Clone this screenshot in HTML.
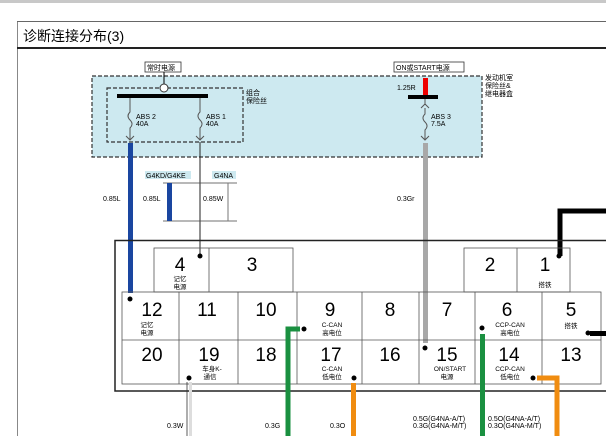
<!DOCTYPE html>
<html><head><meta charset="utf-8"><style>
html,body{margin:0;padding:0;background:#fff;width:606px;height:436px;overflow:hidden}
svg{display:block}
text{font-family:"Liberation Sans","Noto Sans CJK SC",sans-serif;fill:#000}
</style></head><body>
<svg width="606" height="436" viewBox="0 0 606 436">
<rect x="0" y="0" width="606" height="3" fill="#c8c8c8"/>
<line x1="17.5" y1="21" x2="17.5" y2="436" stroke="#888" stroke-width="1"/>
<line x1="17" y1="21.5" x2="606" y2="21.5" stroke="#666" stroke-width="1"/>
<line x1="17" y1="48" x2="606" y2="48" stroke="#222" stroke-width="2"/>
<text x="23" y="41" font-size="14">诊断连接分布(3)</text>

<!-- fuse box -->
<rect x="92" y="76" width="390" height="81" fill="#cde9f0" stroke="#333" stroke-width="1.2" stroke-dasharray="4,2"/>
<rect x="107" y="88" width="136" height="54" fill="none" stroke="#333" stroke-width="1.2" stroke-dasharray="4,2"/>
<text x="246" y="95" font-size="7">组合</text>
<text x="246" y="103" font-size="7">保险丝</text>
<text x="485" y="80" font-size="7">发动机室</text>
<text x="485" y="88" font-size="7">保险丝&amp;</text>
<text x="485" y="96" font-size="7">继电器盒</text>
<rect x="145" y="62" width="36" height="10" fill="#fff" stroke="#333" stroke-width="0.8"/>
<text x="147" y="70" font-size="7">常时电源</text>
<rect x="394" y="62" width="70" height="10" fill="#fff" stroke="#333" stroke-width="0.8"/>
<text x="396" y="70" font-size="7">ON或START电源</text>
<line x1="164" y1="72" x2="164" y2="84" stroke="#000"/>
<circle cx="164" cy="88" r="4" fill="#fff" stroke="#333"/>
<rect x="117" y="94" width="91" height="4" fill="#000"/>
<rect x="408" y="95" width="30" height="4" fill="#000"/>
<rect x="423" y="78" width="5" height="17" fill="#e00"/>
<text x="397" y="90" font-size="7">1.25R</text>
<!-- fuses -->
<g fill="none" stroke="#555" stroke-width="1">
<path d="M130 98 V112 q-4 4 0 8 q4 4 0 8 V140 M126 136 l4 4 4-4"/>
<path d="M200 98 V112 q-4 4 0 8 q4 4 0 8 V140 M196 136 l4 4 4-4"/>
<path d="M425 99 V105 M421 108 l4-4 4 4 M425 108 V114 q-4 4 0 8 q4 4 0 8 V140 M421 136 l4 4 4-4"/>
</g>
<text x="136" y="119" font-size="7">ABS 2</text><text x="136" y="126" font-size="7">40A</text>
<text x="206" y="119" font-size="7">ABS 1</text><text x="206" y="126" font-size="7">40A</text>
<text x="431" y="119" font-size="7">ABS 3</text><text x="431" y="126" font-size="7">7.5A</text>

<!-- wires -->
<rect x="128" y="143" width="5" height="150" fill="#1a46a0"/>
<rect x="423" y="143" width="5" height="200" fill="#a8a8a8"/>
<line x1="200" y1="142" x2="200" y2="255" stroke="#222" stroke-width="1"/>
<path d="M163 183 H237 M163 221 H237" stroke="#444" stroke-width="0.8" fill="none"/>
<rect x="167" y="183" width="5" height="38" fill="#1a46a0"/>
<line x1="228" y1="183" x2="228" y2="221" stroke="#777" stroke-width="1"/>
<rect x="145" y="171" width="46" height="8" fill="#cde9f0"/>
<text x="146" y="178" font-size="7">G4KD/G4KE</text>
<rect x="212" y="171" width="24" height="8" fill="#cde9f0"/>
<text x="214" y="178" font-size="7">G4NA</text>
<text x="103" y="201" font-size="7">0.85L</text>
<text x="143" y="201" font-size="7">0.85L</text>
<text x="203" y="201" font-size="7">0.85W</text>
<text x="397" y="201" font-size="7">0.3Gr</text>
<path d="M560 256 V211 H606" stroke="#000" stroke-width="5" fill="none"/>

<!-- connector -->
<rect x="115" y="240.5" width="500" height="150.5" fill="none" stroke="#222" stroke-width="1.5"/>
<g fill="none" stroke="#555" stroke-width="0.8">
<rect x="154" y="248" width="139" height="44"/><line x1="209" y1="248" x2="209" y2="292"/>
<rect x="464" y="248" width="106" height="44"/><line x1="517" y1="248" x2="517" y2="292"/>
<rect x="122" y="292" width="479" height="92"/><line x1="122" y1="340" x2="601" y2="340"/>
<line x1="179" y1="292" x2="179" y2="384"/><line x1="238" y1="292" x2="238" y2="384"/>
<line x1="297" y1="292" x2="297" y2="384"/><line x1="362" y1="292" x2="362" y2="384"/>
<line x1="419" y1="292" x2="419" y2="384"/><line x1="475" y1="292" x2="475" y2="384"/>
<line x1="542" y1="292" x2="542" y2="384"/>
</g>
<g font-size="19" text-anchor="middle">
<text x="180" y="271">4</text><text x="252" y="271">3</text>
<text x="490" y="271">2</text><text x="545" y="271">1</text>
<text x="152" y="316">12</text><text x="207" y="316">11</text><text x="266" y="316">10</text>
<text x="330" y="316">9</text><text x="390" y="316">8</text><text x="447" y="316">7</text>
<text x="507" y="316">6</text><text x="571" y="316">5</text>
<text x="152" y="361">20</text><text x="209" y="361">19</text><text x="266" y="361">18</text>
<text x="331" y="361">17</text><text x="390" y="361">16</text><text x="447" y="361">15</text>
<text x="509" y="361">14</text><text x="571" y="361">13</text>
</g>
<g font-size="6.5" text-anchor="middle">
<text x="180" y="281">记忆</text><text x="180" y="289">电源</text>
<text x="545" y="287">搭铁</text>
<text x="147" y="327">记忆</text><text x="147" y="335">电源</text>
<text x="332" y="327">C-CAN</text><text x="332" y="335">高电位</text>
<text x="510" y="327">CCP-CAN</text><text x="510" y="335">高电位</text>
<text x="571" y="328">搭铁</text>
<text x="212" y="371">车身K-</text><text x="210" y="379">通信</text>
<text x="332" y="371">C-CAN</text><text x="332" y="379">低电位</text>
<text x="450" y="371">ON/START</text><text x="447" y="379">电源</text>
<text x="510" y="371">CCP-CAN</text><text x="510" y="379">低电位</text>
</g>
<g fill="#000">
<circle cx="130" cy="299" r="2.5"/><circle cx="200" cy="256" r="2.5"/><circle cx="559" cy="256" r="2.5"/>
<circle cx="304" cy="329" r="2.5"/><circle cx="482" cy="328" r="2.5"/><circle cx="588" cy="333" r="2.5"/>
<circle cx="425" cy="348" r="2.5"/><circle cx="189" cy="378" r="2.5"/><circle cx="354" cy="378" r="2.5"/>
<circle cx="533" cy="378" r="2.5"/>
</g>
<rect x="590" y="331" width="16" height="5" fill="#000"/>
<path d="M288 436 V329 H300" stroke="#1a9040" stroke-width="5" fill="none"/>
<rect x="480" y="334" width="5" height="102" fill="#1a9040"/>
<rect x="351" y="383" width="5" height="53" fill="#f08c10"/>
<path d="M537 378 H557 V436" stroke="#f08c10" stroke-width="5" fill="none"/>
<line x1="187" y1="382" x2="187" y2="436" stroke="#333" stroke-width="0.8"/>
<rect x="189" y="382" width="3" height="54" fill="#ddd"/>
<g font-size="7">
<text x="167" y="428">0.3W</text><text x="265" y="428">0.3G</text><text x="330" y="428">0.3O</text>
<text x="413" y="421">0.5G(G4NA-A/T)</text><text x="413" y="428">0.3G(G4NA-M/T)</text>
<text x="488" y="421">0.5O(G4NA-A/T)</text><text x="488" y="428">0.3O(G4NA-M/T)</text>
</g>
</svg>
</body></html>
